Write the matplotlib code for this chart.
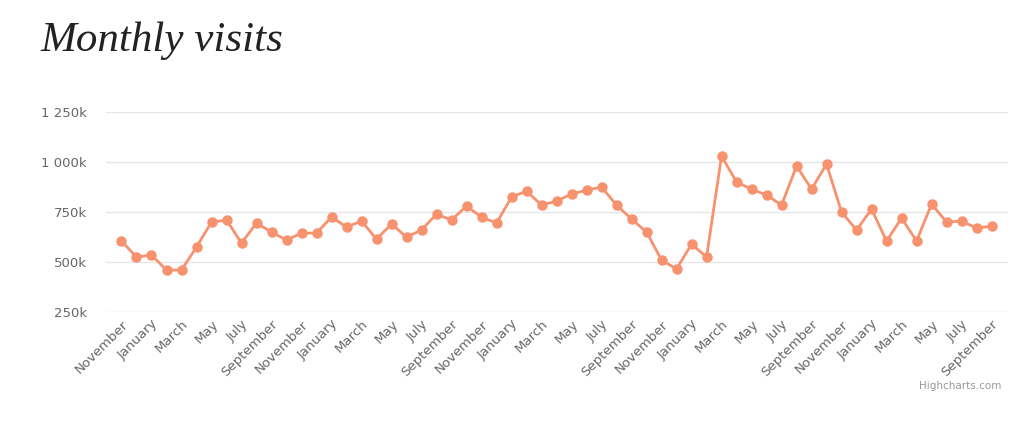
import matplotlib
matplotlib.use("Agg")
import matplotlib.pyplot as plt

values = [605,525,535,460,460,575,700,710,595,695,650,610,645,645,725,675,705,615,690,625,
          660,740,710,780,725,695,825,855,785,805,840,860,875,785,715,650,510,465,590,525,
          1030,900,865,835,785,980,865,990,750,660,765,605,720,605,790,700,705,670,680]
months = ["January","February","March","April","May","June","July","August",
          "September","October","November","December"]
labels = [months[(10 + i) % 12] for i in range(len(values))]
yticks = [250, 500, 750, 1000, 1250]
ylabels = ["250k", "500k", "750k", "1 000k", "1 250k"]

fig = plt.figure(figsize=(10.24, 4.28), dpi=100)
ax = fig.add_axes([0.104, 0.271, 0.880, 0.467])
x = list(range(len(values)))
ax.plot(x, values, color="#f7926e", lw=2, marker="o", ms=6.5, zorder=3)
ax.set_xlim(-1, 59.07)
ax.set_ylim(250, 1250)
ax.set_yticks(yticks)
ax.set_yticklabels(ylabels)
ax.set_xticks(x[::2])
ax.set_xticklabels(labels[::2], rotation=45, ha="right", rotation_mode="anchor")
ax.grid(axis="y", color="#e6e6e6", lw=1)
for s in ax.spines.values():
    s.set_visible(False)
ax.tick_params(axis="both", length=0, colors="#666666", labelsize=9.5)
ax.tick_params(axis="x", pad=4)
ax.tick_params(axis="y", pad=14)
fig.text(0.04, 0.905, "Monthly visits", family="Liberation Serif", style="italic",
         fontsize=31, color="#222222", va="center")
fig.text(0.978, 0.09, "Highcharts.com", fontsize=7.5, color="#999999", ha="right")
fig.savefig("out.png", dpi=100)
